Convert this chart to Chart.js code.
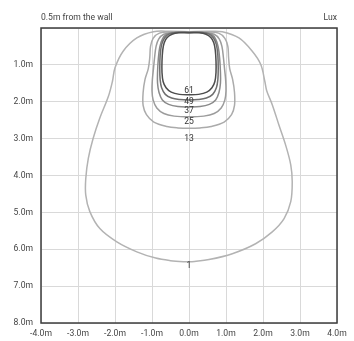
<!DOCTYPE html>
<html>
<head>
<meta charset="utf-8">
<script src="https://cdn.jsdelivr.net/npm/chart.js@4"></script>
<style>
  html, body { margin: 0; padding: 0; background: #fff; }
  canvas { display: block; }
</style>
</head>
<body>
<canvas id="c" width="354" height="341"></canvas>
<script>
// ---- data ----
const headerLeft = '0.5m from the wall';
const headerRight = 'Lux';
const xTicks = [-4, -3, -2, -1, 0, 1, 2, 3, 4];
const yTicks = [1, 2, 3, 4, 5, 6, 7, 8];
const levels = ['61', '49', '37', '25', '13', '1'];
const labelX = [0, 0, 0, 0, 0, 0];
const labelY = [1.71, 2.0, 2.25, 2.54, 3.01, 6.46];

const contour61 = [[0,0.13],[0.28,0.13],[0.46,0.17],[0.59,0.26],[0.67,0.4],[0.71,0.6],[0.73,0.9],[0.73,1.2],[0.7,1.45],[0.62,1.62],[0.48,1.74],[0.26,1.8],[0,1.81],
  [-0.26,1.8],[-0.48,1.74],[-0.62,1.62],[-0.7,1.45],[-0.73,1.2],[-0.73,0.9],[-0.71,0.6],[-0.67,0.4],[-0.59,0.26],[-0.46,0.17],[-0.28,0.13],[0,0.13]];
const contour49 = [[0,0.12],[0.33,0.12],[0.53,0.16],[0.66,0.27],[0.74,0.45],[0.78,0.75],[0.79,1.1],[0.78,1.4],[0.74,1.62],[0.64,1.8],[0.47,1.9],[0.25,1.94],[0,1.95],
  [-0.25,1.94],[-0.47,1.9],[-0.64,1.8],[-0.74,1.62],[-0.78,1.4],[-0.79,1.1],[-0.78,0.75],[-0.74,0.45],[-0.66,0.27],[-0.53,0.16],[-0.33,0.12],[0,0.12]];
const contour37 = [[0,0.12],[0.38,0.12],[0.6,0.17],[0.72,0.3],[0.79,0.52],[0.83,0.85],[0.85,1.2],[0.85,1.5],[0.81,1.75],[0.72,1.95],[0.55,2.07],[0.3,2.13],[0,2.14],
  [-0.3,2.13],[-0.55,2.07],[-0.72,1.95],[-0.81,1.75],[-0.85,1.5],[-0.85,1.2],[-0.83,0.85],[-0.79,0.52],[-0.72,0.3],[-0.6,0.17],[-0.38,0.12],[0,0.12]];
const contour25 = [[0,0.12],[0.45,0.12],[0.68,0.17],[0.82,0.3],[0.89,0.5],[0.93,0.8],[0.96,1.1],[0.99,1.4],[1.0,1.7],[0.97,1.95],[0.87,2.17],[0.68,2.32],[0.4,2.39],[0,2.41],
  [-0.4,2.39],[-0.68,2.32],[-0.87,2.17],[-0.97,1.95],[-1.0,1.7],[-0.99,1.4],[-0.96,1.1],[-0.93,0.8],[-0.89,0.5],[-0.82,0.3],[-0.68,0.17],[-0.45,0.12],[0,0.12]];
const contour13 = [[0,0.11],[0.5,0.11],[0.8,0.14],[0.97,0.28],[1.05,0.5],[1.07,0.8],[1.1,1.1],[1.18,1.4],[1.23,1.75],[1.23,2.1],[1.15,2.35],[0.95,2.55],[0.6,2.67],[0.3,2.71],[0,2.72],
  [-0.3,2.71],[-0.6,2.67],[-0.95,2.55],[-1.15,2.35],[-1.24,2.1],[-1.24,1.75],[-1.19,1.4],[-1.1,1.1],[-1.06,0.8],[-1.04,0.5],[-0.97,0.28],[-0.8,0.14],[-0.5,0.11],[0,0.11]];
const contour1 = [[0,0.1],[0.5,0.09],[0.9,0.1],[1.35,0.27],[1.71,0.63],[1.94,0.99],[2.05,1.45],[2.1,1.7],[2.25,2.08],[2.43,2.63],[2.61,3.17],[2.75,3.71],[2.79,4.17],[2.75,4.71],[2.57,5.17],[2.25,5.53],[1.8,5.85],[1.17,6.12],[0.54,6.28],[0.15,6.33],[0,6.34],
  [-0.15,6.34],[-0.5,6.31],[-0.9,6.24],[-1.41,6.07],[-1.95,5.8],[-2.41,5.44],[-2.68,4.98],[-2.79,4.53],[-2.79,4.08],[-2.72,3.53],[-2.59,2.99],[-2.41,2.44],[-2.18,1.86],[-2.07,1.45],[-2.0,1.08],[-1.78,0.63],[-1.41,0.27],[-0.96,0.1],[-0.5,0.09],[0,0.1]];

const contours = [contour61, contour49, contour37, contour25, contour13, contour1];
const colors = ['#4d4d4d', '#6e6e6e', '#8a8a8a', '#9c9c9c', '#ababab', '#b3b3b3'];

const FONT = 'Roboto, "Noto Sans", sans-serif';
const FS = 8.6;

const framePlugin = {
  id: 'frame',
  afterDraw(chart) {
    const { ctx, chartArea: a, scales: { x, y } } = chart;
    ctx.save();
    ctx.strokeStyle = '#3c3c3c';
    ctx.lineWidth = 1.5;
    ctx.strokeRect(a.left, a.top, a.right - a.left, a.bottom - a.top);
    ctx.font = FS + 'px ' + FONT;
    ctx.fillStyle = '#333';
    ctx.textAlign = 'center';
    ctx.textBaseline = 'middle';
    levels.forEach((t, i) => ctx.fillText(t, x.getPixelForValue(labelX[i]), y.getPixelForValue(labelY[i])));
    ctx.fillStyle = '#444';
    ctx.textAlign = 'left';
    ctx.fillText(headerLeft, a.left, 18);
    ctx.textAlign = 'right';
    ctx.fillText(headerRight, a.right, 18);
    ctx.restore();
  }
};

new Chart(document.getElementById('c'), {
  type: 'scatter',
  data: {
    datasets: contours.map((pts, i) => ({
      label: levels[i],
      data: pts.map(p => ({ x: p[0], y: p[1] })),
      showLine: true,
      borderColor: colors[i],
      borderWidth: 1.5,
      pointRadius: 0,
      tension: 0.35,
      fill: false
    }))
  },
  options: {
    responsive: false,
    animation: false,
    devicePixelRatio: 1,
    layout: { padding: { top: 28, right: 17, left: 0, bottom: 0 } },
    plugins: { legend: { display: false }, tooltip: { enabled: false } },
    scales: {
      x: {
        type: 'linear', min: -4, max: 4,
        afterBuildTicks: s => { s.ticks = xTicks.map(v => ({ value: v })); },
        afterFit: s => { s.height = 18; },
        grid: { color: '#d9d9d9', lineWidth: 1, drawTicks: false },
        border: { display: false },
        ticks: { padding: 6, color: '#444', font: { size: FS, family: FONT }, maxRotation: 0,
          callback: v => v.toFixed(1) + 'm' }
      },
      y: {
        type: 'linear', min: 0, max: 8, reverse: true,
        afterBuildTicks: s => { s.ticks = [0].concat(yTicks).map(v => ({ value: v })); },
        afterFit: s => { s.width = 41; },
        grid: { color: '#d9d9d9', lineWidth: 1, drawTicks: false },
        border: { display: false },
        ticks: { padding: 8, color: '#444', font: { size: FS, family: FONT },
          callback: v => v === 0 ? '' : v.toFixed(1) + 'm' }
      }
    }
  },
  plugins: [framePlugin]
});
</script>
</body>
</html>
